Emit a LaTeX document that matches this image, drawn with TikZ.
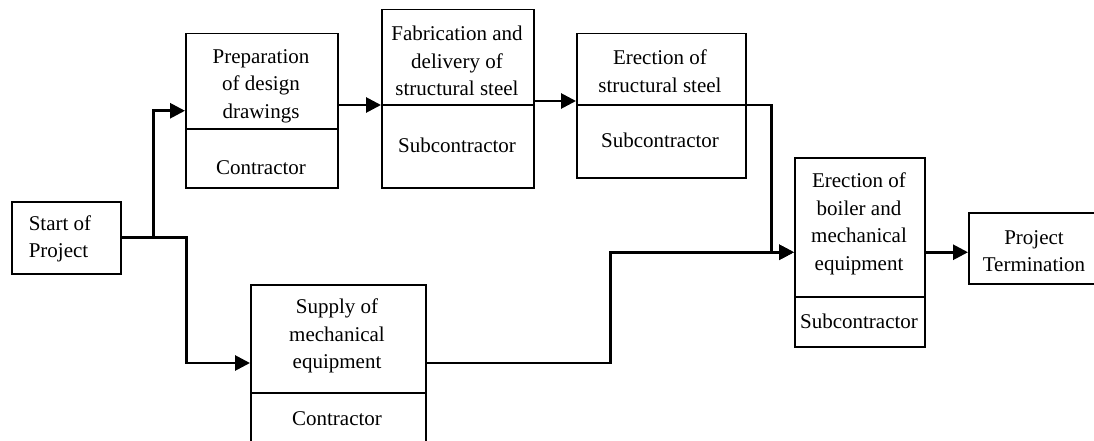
\documentclass[tikz,border=0pt]{standalone}
\usepackage{fontspec}
\setmainfont{Liberation Serif}
\usetikzlibrary{arrows.meta,calc}
\begin{document}
\begin{tikzpicture}[x=1pt,y=-1pt,
  box/.style={draw, line width=1.5pt, inner sep=0pt, anchor=north west},
  divider/.style={line width=1.5pt},
  txt/.style={align=center, inner sep=0pt, font=\fontsize{21}{27.5}\selectfont},
  conn/.style={line width=2.8pt, -{Triangle[length=15pt,width=15pt]}},
  plain/.style={line width=2.8pt}]
\useasboundingbox (0,0) rectangle (1094,441);
\clip (0,0) rectangle (1094,441);
% boxes
\node[box, minimum width=109pt, minimum height=72pt] (start) at (11,201) {};
\node[box, minimum width=152pt, minimum height=154pt] (prep) at (185,33) {};
\node[box, minimum width=152pt, minimum height=178pt] (fab) at (381,9) {};
\node[box, minimum width=169pt, minimum height=144pt] (erec) at (576,33) {};
\node[box, minimum width=175pt, minimum height=170pt] (supply) at (250,284) {};
\node[box, minimum width=130pt, minimum height=189pt] (boiler) at (794,157) {};
\node[box, minimum width=140pt, minimum height=71pt] (term) at (968,212) {};
% dividers
\draw[divider] (185,129) -- (337,129);
\draw[divider] (381,105) -- (533,105);
\draw[divider] (576,105) -- (745,105);
\draw[divider] (250,393) -- (425,393);
\draw[divider] (794,297) -- (924,297);
% texts
\node[txt, align=left] (t0) at (60,239) {Start of\\Project};
\node[txt] (t1) at (261,86) {Preparation\\of design\\drawings};
\node[txt] (t1b) at (261,168) {Contractor};
\node[txt] (t2) at (457,61) {Fabrication and\\delivery of\\structural steel};
\node[txt] (t2b) at (457,145) {Subcontractor};
\node[txt] (t3) at (660,71) {Erection of\\structural steel};
\node[txt] (t3b) at (660,140) {Subcontractor};
\node[txt] (t4) at (337,336) {Supply of\\mechanical\\equipment};
\node[txt] (t4b) at (337,419) {Contractor};
\node[txt] (t5) at (859,224) {Erection of\\boiler and\\mechanical\\equipment};
\node[txt] (t5b) at (859,321) {Subcontractor};
\node[txt] (t6) at (1034,251) {Project\\Termination};
% connector levels
\coordinate (a1) at (0,105);
\coordinate (a2) at (0,101);
\coordinate (a3) at (0,105);
\coordinate (a4) at (0,363);
% connectors
\draw[conn] (start.east) -- ++(32,0) |- (prep.west);
\draw[conn] (start.east) -- ++(65,0) |- (supply.west |- a4);
\draw[conn] (prep.east |- a1) -- (fab.west |- a1);
\draw[conn] (fab.east |- a2) -- (erec.west |- a2);
\draw[conn] ([xshift=-17pt]erec.east |- a3) -- ++(42,0) |- (boiler.west);
\draw[conn] (supply.east |- a4) -- ++(184,0) |- (boiler.west);
\draw[conn] (boiler.east) -- (term.west |- boiler.east);
\end{tikzpicture}
\end{document}
